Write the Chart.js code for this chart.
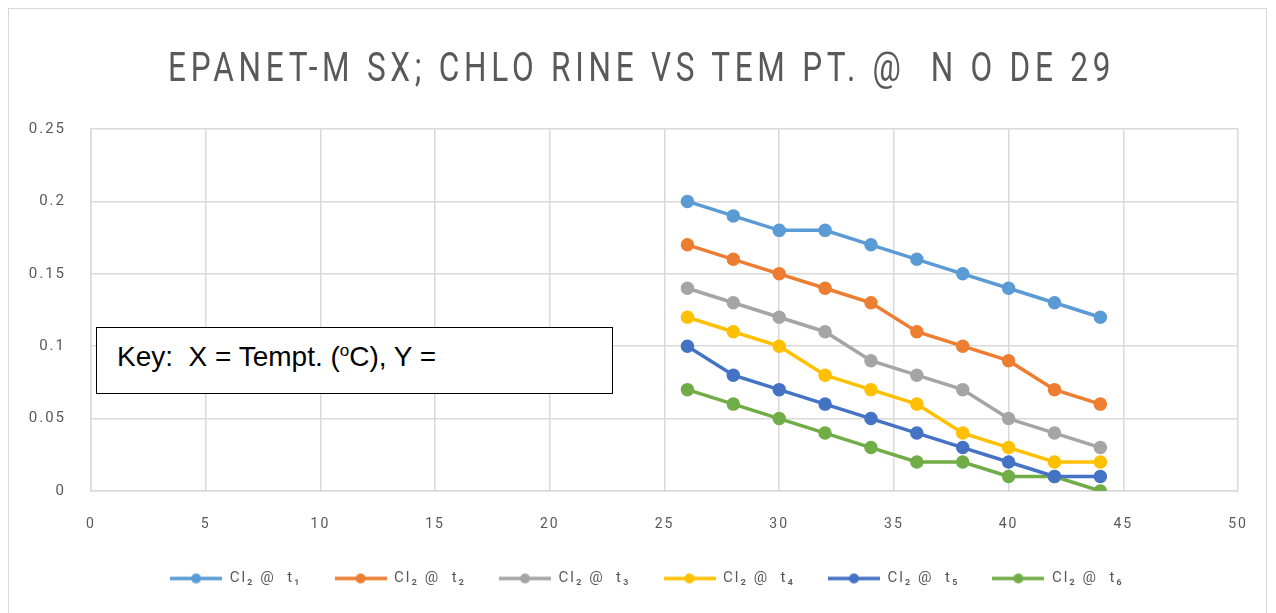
<!DOCTYPE html>
<html>
<head>
<meta charset="utf-8">
<script src="https://cdn.jsdelivr.net/npm/chart.js@4.4.1/dist/chart.umd.min.js"></script>
<style>
  html, body { margin: 0; padding: 0; background: #fff; }
  #wrap { position: relative; width: 1276px; height: 613px; overflow: hidden; }
  #frame { position: absolute; left: 8px; top: 8px; width: 1259px; height: 610px; border: 1px solid #d9d9d9; box-sizing: border-box; }
  #chart { position: absolute; left: 0; top: 0; }
  #title { position: absolute; left: 168px; top: 44px; white-space: pre; font-family: Roboto, sans-serif; font-size: 40px;
           color: #595959; letter-spacing: 6px; transform-origin: left top; }
  #key { position: absolute; left: 96px; top: 327px; width: 517px; height: 67px; box-sizing: border-box; border: 1px solid #000;
         background: #fff; font-family: "Liberation Sans", Arial, sans-serif; font-size: 28px; line-height: 28px; color: #000;
         padding: 15px 0 0 20px; white-space: pre; }
  #key sup { font-size: 17px; line-height: 0; }
</style>
</head>
<body>
<div id="wrap">
  <div id="frame"></div>
  <canvas id="chart" width="1276" height="613"></canvas>
  <div id="title">EPANET-M SX; CHLO RINE VS TEM PT. @  N O DE 29</div>
  <div id="key">Key:  X = Tempt. (<sup>o</sup>C), Y =</div>
</div>
<script>
const temps = [26, 28, 30, 32, 34, 36, 38, 40, 42, 44];
const clT1 = [0.20, 0.19, 0.18, 0.18, 0.17, 0.16, 0.15, 0.14, 0.13, 0.12];
const clT2 = [0.17, 0.16, 0.15, 0.14, 0.13, 0.11, 0.10, 0.09, 0.07, 0.06];
const clT3 = [0.14, 0.13, 0.12, 0.11, 0.09, 0.08, 0.07, 0.05, 0.04, 0.03];
const clT4 = [0.12, 0.11, 0.10, 0.08, 0.07, 0.06, 0.04, 0.03, 0.02, 0.02];
const clT5 = [0.10, 0.08, 0.07, 0.06, 0.05, 0.04, 0.03, 0.02, 0.01, 0.01];
const clT6 = [0.07, 0.06, 0.05, 0.04, 0.03, 0.02, 0.02, 0.01, 0.01, 0.00];
const seriesNames = ['Cl\u2082 @  t\u2081', 'Cl\u2082 @  t\u2082', 'Cl\u2082 @  t\u2083', 'Cl\u2082 @  t\u2084', 'Cl\u2082 @  t\u2085', 'Cl\u2082 @  t\u2086'];
const colors = ['#5b9bd5', '#ed7d31', '#a5a5a5', '#ffc000', '#4472c4', '#70ad47'];
const xTicks = [0, 5, 10, 15, 20, 25, 30, 35, 40, 45, 50];
const yTickLabels = ['0', '0.05', '0.1', '0.15', '0.2', '0.25'];

// fit the title to its width in the reference
const title = document.getElementById('title');
title.style.transform = 'scaleX(' + (947 / title.offsetWidth) + ')';

const allSeries = [clT1, clT2, clT3, clT4, clT5, clT6];
const datasets = allSeries.map((vals, i) => ({
  label: seriesNames[i],
  data: vals.map((v, j) => ({ x: temps[j], y: v })),
  borderColor: colors[i],
  backgroundColor: colors[i],
  borderWidth: 3.5,
  pointRadius: 5,
  pointHoverRadius: 5,
  tension: 0
}));

// legend marker: short line with a dot
const legendMarker = (color) => {
  const c = document.createElement('canvas');
  c.width = 52; c.height = 14;
  const g = c.getContext('2d');
  g.strokeStyle = color; g.lineWidth = 3.5;
  g.beginPath(); g.moveTo(0, 7); g.lineTo(52, 7); g.stroke();
  g.fillStyle = color;
  g.beginPath(); g.arc(26, 7, 5, 0, Math.PI * 2); g.fill();
  return c;
};

// spaced-out text like the original, and the legend sits a bit right of centre
const tweaks = {
  id: 'tweaks',
  beforeLayout(chart) { chart.ctx.letterSpacing = '2px'; },
  afterLayout(chart) { chart.legend.left += 28; chart.legend.right += 28; },
  beforeDraw(chart) { chart.ctx.letterSpacing = '2px'; }
};

new Chart(document.getElementById('chart'), {
  type: 'line',
  data: { datasets },
  options: {
    responsive: false,
    animation: false,
    layout: { padding: { top: 129, right: 38, bottom: 17, left: 0 } },
    scales: {
      x: {
        type: 'linear', min: 0, max: 50,
        afterBuildTicks: (s) => { s.ticks = xTicks.map(v => ({ value: v })); },
        afterFit: (s) => { s.height = 47; },
        grid: { color: '#d9d9d9', lineWidth: 1.5, drawTicks: false },
        border: { color: '#d9d9d9', width: 1.5 },
        ticks: { padding: 25, color: '#595959', font: { family: 'Roboto', size: 14 } }
      },
      y: {
        min: 0, max: 0.25,
        afterBuildTicks: (s) => { s.ticks = yTickLabels.map(v => ({ value: parseFloat(v) })); },
        afterFit: (s) => { s.width = 91; },
        grid: { color: '#d9d9d9', lineWidth: 1.5, drawTicks: false },
        border: { color: '#d9d9d9', width: 1.5 },
        ticks: {
          padding: 25, color: '#595959', font: { family: 'Roboto', size: 15 },
          callback: (v, i) => yTickLabels[i]
        }
      }
    },
    plugins: {
      title: { display: false },
      tooltip: { enabled: false },
      legend: {
        position: 'bottom',
        labels: {
          usePointStyle: true,
          pointStyleWidth: 52,
          padding: 33,
          color: '#595959',
          font: { family: 'Roboto', size: 15 },
          generateLabels: (chart) => Chart.defaults.plugins.legend.labels.generateLabels(chart)
            .map((l, i) => Object.assign(l, { pointStyle: legendMarker(colors[i]) }))
        }
      }
    }
  },
  plugins: [tweaks]
});
</script>
</body>
</html>
